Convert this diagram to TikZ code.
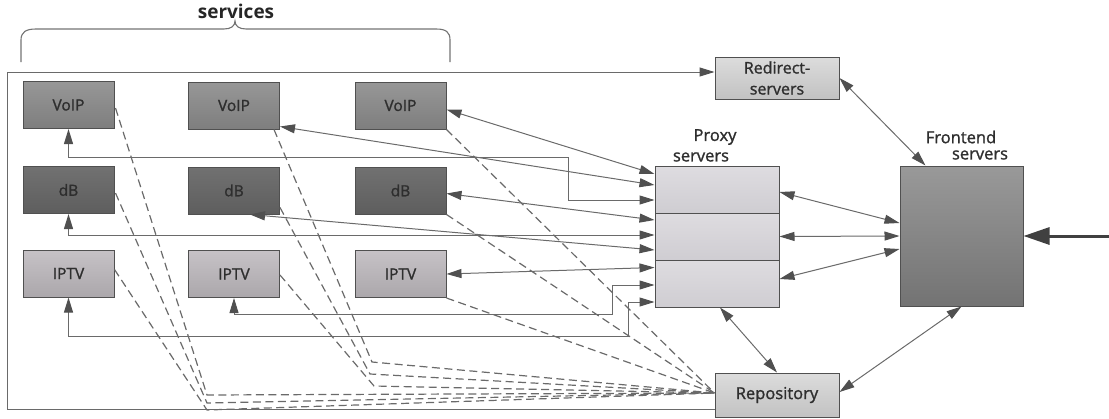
\documentclass[tikz,border=0pt]{standalone}
\usepackage{fontspec}
\setmainfont{Open Sans}
\newfontfamily\semib[FakeBold=1.3]{Open Sans}
\usetikzlibrary{arrows.meta,calc}
\definecolor{ln}{HTML}{6A6A6A}
\definecolor{ah}{HTML}{505050}
\definecolor{bd}{HTML}{505050}
\definecolor{tx}{HTML}{2E2E2E}
\definecolor{voipT}{HTML}{979797}
\definecolor{voipB}{HTML}{7E7E7E}
\definecolor{dbT}{HTML}{717171}
\definecolor{dbB}{HTML}{5E5E5E}
\definecolor{ipT}{HTML}{C6C2C6}
\definecolor{ipB}{HTML}{ABA7AB}
\definecolor{pxT}{HTML}{DEDCE0}
\definecolor{pxB}{HTML}{CFCDD2}
\definecolor{svT}{HTML}{DCDCDC}
\definecolor{svB}{HTML}{C2C2C2}
\definecolor{feT}{HTML}{999999}
\definecolor{feB}{HTML}{737373}
\tikzset{
  Tri/.tip={Triangle[length=15pt,width=9pt,color=ah,fill=ah]},
  BigTri/.tip={Triangle[length=26pt,width=17pt,color=ah!80!black,fill=ah!80!black]},
  svc/.style={draw=bd, line width=1pt, minimum width=91pt, minimum height=47pt, inner sep=0pt, font=\semib\fontsize{15.5}{18}\selectfont, text=tx},
  voipbox/.style={svc, top color=voipT, bottom color=voipB},
  dbbox/.style={svc, top color=dbT, bottom color=dbB},
  iptvbox/.style={svc, top color=ipT, bottom color=ipB},
  prox/.style={draw=bd, line width=1pt, minimum width=124pt, minimum height=47pt, inner sep=0pt, top color=pxT, bottom color=pxB},
  srv/.style={draw=bd, line width=1pt, minimum width=124pt, inner sep=0pt, top color=svT, bottom color=svB, text=tx, align=center, font=\semib\fontsize{16}{21}\selectfont},
  febox/.style={draw=bd, line width=1pt, minimum width=123pt, minimum height=140pt, inner sep=0pt, top color=feT, bottom color=feB},
  lbl/.style={inner sep=0pt, text=tx, font=\semib\fontsize{16.5}{20}\selectfont},
  conn/.style={draw=ln, line width=1pt},
  biarr/.style={conn, Tri-Tri},
  onearr/.style={conn, -Tri},
  dsh/.style={draw=ln, line width=1.2pt, dash pattern=on 8pt off 4.5pt},
}
\begin{document}
\begin{tikzpicture}[x=1pt,y=-1pt]
\useasboundingbox (0,0) rectangle (1109,418);

% service boxes
\node[voipbox] (v1) at (68.5,105) {VoIP};
\node[voipbox] (v2) at (234,105.5) {VoIP};
\node[voipbox] (v3) at (400.5,105.5) {VoIP};
\node[dbbox] (d1) at (68.5,190) {dB};
\node[dbbox] (d2) at (234,190.5) {dB};
\node[dbbox] (d3) at (400.5,190.5) {dB};
\node[iptvbox] (i1) at (68.5,273.5) {IPTV};
\node[iptvbox] (i2) at (234,274) {IPTV};
\node[iptvbox] (i3) at (400.5,274) {IPTV};

% proxy servers
\node[prox] (p1) at (717,189.5) {};
\node[prox] (p2) at (717,236.5) {};
\node[prox] (p3) at (717,283.5) {};
\node[lbl] (plbl1) at (715,137) {Proxy};
\node[lbl] (plbl2) at (701,157) {servers};

% frontend
\node[febox] (fe) at (961.5,236) {};
\node[lbl] (flbl1) at (961,137) {Frontend};
\node[lbl] (flbl2) at (980,155) {servers};

% redirect and repository
\node[srv, minimum height=42pt] (rd) at (777,78) {Redirect-\\servers};
\node[srv, minimum height=44pt, font=\semib\fontsize{16.5}{20}\selectfont] (rep) at (777,395) {Repository};

% services brace
\node[inner sep=0pt, font=\bfseries\fontsize{19}{22}\selectfont, text=black!85] (svl) at (236,11) {services};
\draw[draw=black!55, line width=1.1pt]
  (21,62) -- (21,40) .. controls (21,32) and (26,29) .. (36,29) -- (224,29)
  .. controls (231,29) and (235,26) .. (235,21)
  .. controls (235,26) and (239,29) .. (246,29) -- (436,29)
  .. controls (446,29) and (450,32) .. (450,40) -- (450,62);

% coordinates
\coordinate (fr) at (7,72);
\coordinate (c1) at (568,157);
\coordinate (c2) at (612,314);
\coordinate (c3) at (628,336);
\coordinate (rin) at ($(rep.west)+(0,-2)$);
\coordinate (k1) at (207,395);
\coordinate (k2) at (207,403);
\coordinate (k3) at (207,410);
\coordinate (k4) at (372,362);
\coordinate (k5) at (370,374);
\coordinate (k6) at (374,386);
\coordinate (inp) at (1109,236);

% dashed lines to repository
\draw[dsh] ($(v1.east)+(1,3)$) -- (k1) -- (rin);
\draw[dsh] ($(d1.east)+(1,3)$) -- (k2) -- (rin);
\draw[dsh] ($(i1.east)+(0,-4)$) -- (k3) -- (rin);
\draw[dsh] ($(v2.south east)+(-6,0)$) -- (k4) -- (rin);
\draw[dsh] ($(d2.east)+(0,17)$) -- (k5) -- (rin);
\draw[dsh] ($(i2.east)+(0,1)$) -- (k6) -- (rin);
\draw[dsh] (v3.south east) -- (rin);
\draw[dsh] (d3.south east) -- (rin);
\draw[dsh] (i3.south east) -- (rin);

% outer frame line
\draw[onearr] ($(rep.west)+(0,14)$) -| (fr) -- (rd.west |- fr);

% service <-> proxy
\draw[biarr] ($(v3.east)+(0,4)$) -- ($(p1.west)+(0,-15.5)$);
\draw[biarr] ($(v2.east)+(0,21)$) -- ($(p1.west)+(0,-4.5)$);
\draw[biarr] (v1.south) |- (c1) |- ($(p1.west)+(0,10.5)$);
\draw[biarr] ($(d3.east)+(0,3)$) -- ($(p2.west)+(0,-16.5)$);
\draw[biarr] ($(d2.south)+(16,0)$) -- ($(p2.west)+(0,13.5)$);
\draw[biarr] (d1.south) |- ($(p2.west)+(0,-1.5)$);
\draw[biarr] (i3.east) -- ($(p3.west)+(0,-16)$);
\draw[biarr] (i2.south) |- (c2) |- ($(p3.west)+(0,1.5)$);
\draw[biarr] (i1.south) |- (c3) |- ($(p3.west)+(0,18.5)$);

% proxy <-> frontend
\draw[biarr] ($(p1.east)+(0,2.5)$) -- ($(fe.west)+(0,-13)$);
\draw[biarr] (p2.east) -- (fe.west);
\draw[biarr] ($(p3.east)+(0,-4.5)$) -- ($(fe.west)+(0,13)$);

% other links
\draw[biarr] (rd.east) -- ($(fe.north west)+(26,0)$);
\draw[biarr] ($(p3.south)+(3,0)$) -- (rep.north);
\draw[biarr] (fe.south) -- ($(rep.east)+(0,-3)$);
\draw[draw=ah!80!black, line width=3pt, -BigTri] (inp) -- (fe.east);
\end{tikzpicture}
\end{document}
